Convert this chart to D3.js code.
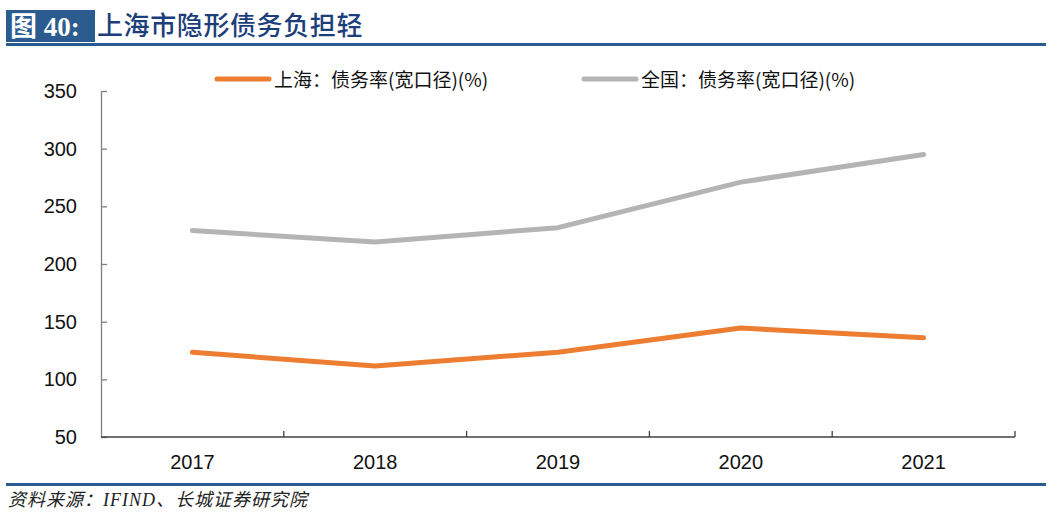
<!DOCTYPE html>
<html>
<head>
<meta charset="utf-8">
<script src="https://cdn.jsdelivr.net/npm/d3@7"></script>
<style>
  body { margin: 0; background: #fff; }
  svg { display: block; }
</style>
</head>
<body>
<div id="chart"></div>
<script>
const years = ['2017', '2018', '2019', '2020', '2021'];
const shanghaiRate = [123.5, 111.5, 123.5, 144.5, 136];
const nationalRate = [229, 219, 231.5, 271, 295];
const seriesNames = ['上海：债务率(宽口径)(%)', '全国：债务率(宽口径)(%)'];
const seriesColors = ['#ed7d31', '#b4b4b4'];
const yTicks = [50, 100, 150, 200, 250, 300, 350];

const W = 1052;
const H = 517;
const blue = '#2b5b8f';

const svg = d3.select('#chart')
  .append('svg')
  .attr('width', W)
  .attr('height', H);

// header: label box, title and rule
svg.append('rect')
  .attr('x', 6).attr('y', 10).attr('width', 89).attr('height', 32)
  .attr('fill', blue);
svg.append('text')
  .attr('x', 10).attr('y', 36)
  .attr('fill', '#fff')
  .attr('font-family', '"Liberation Serif", "Noto Sans CJK SC", serif')
  .attr('font-weight', 'bold')
  .attr('font-size', 27)
  .text('图 40:');
svg.append('text')
  .attr('x', 97).attr('y', 35)
  .attr('fill', '#1c3f7c')
  .attr('font-family', '"Noto Sans CJK SC", sans-serif')
  .attr('font-weight', 500)
  .attr('font-size', 26)
  .attr('letter-spacing', 0.6)
  .text('上海市隐形债务负担轻');
svg.append('rect')
  .attr('x', 6).attr('y', 43).attr('width', W - 12).attr('height', 3)
  .attr('fill', blue);

// footer
svg.append('rect')
  .attr('x', 6).attr('y', 483).attr('width', W - 12).attr('height', 3)
  .attr('fill', blue);
svg.append('text')
  .attr('x', 8).attr('y', 506)
  .attr('fill', '#222')
  .attr('font-family', '"Liberation Serif", "Noto Sans CJK SC", serif')
  .attr('font-style', 'italic')
  .attr('font-size', 18)
  .attr('letter-spacing', 1)
  .text('资料来源：IFIND、长城证券研究院');

// plot area
const plotLeft = 101;
const plotRight = 1015;
const plotTop = 91;
const plotBottom = 437;

const x = d3.scaleBand().domain(years).range([plotLeft, plotRight]);
const y = d3.scaleLinear().domain([50, 350]).range([plotBottom, plotTop]);

const yAxis = svg.append('g')
  .attr('transform', `translate(${plotLeft},0)`)
  .call(d3.axisRight(y).tickValues(yTicks).tickSize(6).tickSizeOuter(0).tickFormat(''));
yAxis.select('.domain').attr('stroke', '#808080').attr('stroke-width', 1.3);
yAxis.selectAll('.tick line').attr('stroke', '#808080').attr('stroke-width', 1.3);

svg.append('g')
  .selectAll('text')
  .data(yTicks)
  .join('text')
  .attr('x', 77)
  .attr('y', (d) => y(d))
  .attr('dy', '0.35em')
  .attr('text-anchor', 'end')
  .attr('font-family', '"Liberation Sans", Arial, sans-serif')
  .attr('font-size', 20)
  .attr('fill', '#111')
  .text((d) => d);

// x axis with ticks between categories, pointing up
const xAxis = svg.append('g')
  .attr('transform', `translate(0,${plotBottom})`);
xAxis.append('line')
  .attr('x1', plotLeft).attr('x2', plotRight)
  .attr('stroke', '#404040').attr('stroke-width', 1.3);
xAxis.selectAll('.xtick')
  .data(years.slice(1).map((d) => x(d)).concat([plotRight]))
  .join('line')
  .attr('class', 'xtick')
  .attr('x1', (d) => d).attr('x2', (d) => d)
  .attr('y1', 0).attr('y2', -6)
  .attr('stroke', '#404040').attr('stroke-width', 1.3);
xAxis.selectAll('.xlabel')
  .data(years)
  .join('text')
  .attr('class', 'xlabel')
  .attr('x', (d) => x(d) + x.bandwidth() / 2)
  .attr('y', 25)
  .attr('dy', '0.35em')
  .attr('text-anchor', 'middle')
  .attr('font-family', '"Liberation Sans", Arial, sans-serif')
  .attr('font-size', 20)
  .attr('fill', '#111')
  .text((d) => d);

// lines
const line = d3.line()
  .x((d, i) => x(years[i]) + x.bandwidth() / 2)
  .y((d) => y(d));

[shanghaiRate, nationalRate].forEach((values, i) => {
  svg.append('path')
    .datum(values)
    .attr('fill', 'none')
    .attr('stroke', seriesColors[i])
    .attr('stroke-width', 5)
    .attr('stroke-linecap', 'round')
    .attr('stroke-linejoin', 'round')
    .attr('d', line);
});

// legend
const legendX = [217, 584];
seriesNames.forEach((name, i) => {
  svg.append('line')
    .attr('x1', legendX[i]).attr('x2', legendX[i] + 52)
    .attr('y1', 79).attr('y2', 79)
    .attr('stroke', seriesColors[i])
    .attr('stroke-width', 5)
    .attr('stroke-linecap', 'round');
  svg.append('text')
    .attr('x', legendX[i] + 57)
    .attr('y', 80)
    .attr('dy', '0.35em')
    .attr('font-family', '"Noto Sans CJK SC", sans-serif')
    .attr('font-size', 19)
    .attr('fill', '#111')
    .text(name);
});
</script>
</body>
</html>
